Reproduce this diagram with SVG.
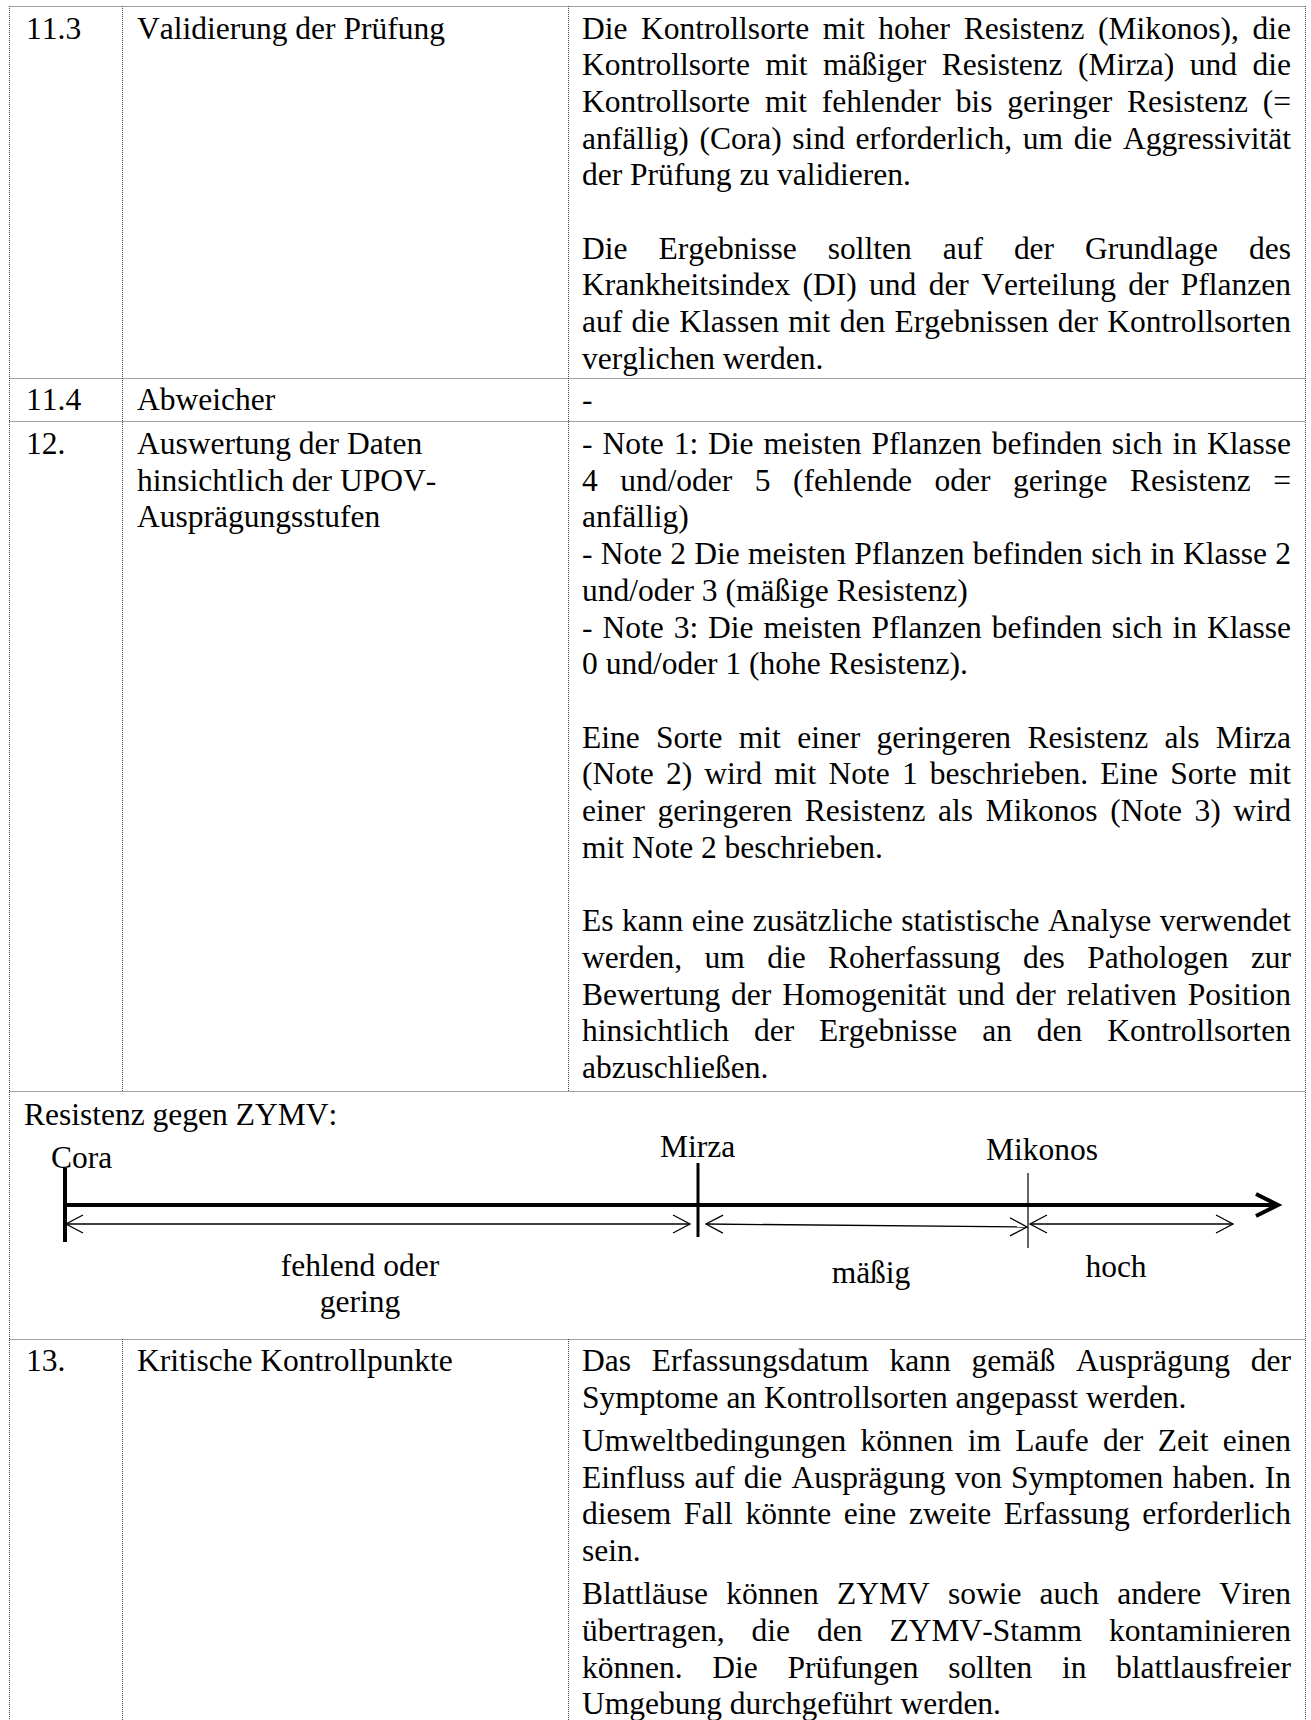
<svg xmlns="http://www.w3.org/2000/svg" width="1311" height="1720" viewBox="0 0 1311 1720">
<style>
.t{font-family:"Liberation Serif","Times New Roman",serif;font-size:31.5px;fill:#000;font-kerning:none}
.m{text-anchor:middle}
.grid{stroke:#444;stroke-width:1;stroke-dasharray:1 1;fill:none}
.thin{stroke:#000;stroke-width:1.3;fill:none;marker-start:url(#oa);marker-end:url(#oa)}
</style>
<defs>
<marker id="oa" markerUnits="userSpaceOnUse" markerWidth="20" markerHeight="22" viewBox="0 0 20 22" refX="18" refY="11" orient="auto-start-reverse">
<path d="M1,2 L18,11 L1,20" fill="none" stroke="#000" stroke-width="1.3"/>
</marker>
</defs>
<rect width="1311" height="1720" fill="#fff"/>

<g id="grid">
<path class="grid" d="M9.5,6.5 H1305.5 M9.5,378.5 H1305.5 M9.5,421.5 H1305.5 M9.5,1091.5 H1305.5 M9.5,1339.5 H1305.5"/>
<path class="grid" d="M9.5,6 V1720 M1305.5,6 V1720 M122.5,6 V1091 M568.5,6 V1091 M122.5,1339 V1720 M568.5,1339 V1720"/>
</g>

<g id="row-11-3">
<text class="t" x="26" y="38.5">11.3</text>
<text class="t" x="137" y="38.5">Validierung der Prüfung</text>
<text class="t" x="582" y="38.5" style="word-spacing:5.7px" textLength="709" lengthAdjust="spacing">Die Kontrollsorte mit hoher Resistenz (Mikonos), die</text>
<text class="t" x="582" y="75.2" style="word-spacing:7.6px" textLength="709" lengthAdjust="spacing">Kontrollsorte mit mäßiger Resistenz (Mirza) und die</text>
<text class="t" x="582" y="111.9" style="word-spacing:7px" textLength="709" lengthAdjust="spacing">Kontrollsorte mit fehlender bis geringer Resistenz (=</text>
<text class="t" x="582" y="148.6" style="word-spacing:2.8px" textLength="709" lengthAdjust="spacing">anfällig) (Cora) sind erforderlich, um die Aggressivität</text>
<text class="t" x="582" y="185.3">der Prüfung zu validieren.</text>
<text class="t" x="582" y="258.7" style="word-spacing:23.1px" textLength="709" lengthAdjust="spacing">Die Ergebnisse sollten auf der Grundlage des</text>
<text class="t" x="582" y="295.4" style="word-spacing:4.45px" textLength="709" lengthAdjust="spacing">Krankheitsindex (DI) und der Verteilung der Pflanzen</text>
<text class="t" x="582" y="332.1" style="word-spacing:1.43px" textLength="709" lengthAdjust="spacing">auf die Klassen mit den Ergebnissen der Kontrollsorten</text>
<text class="t" x="582" y="368.8">verglichen werden.</text>
</g>

<g id="row-11-4">
<text class="t" x="26" y="410">11.4</text>
<text class="t" x="137" y="410">Abweicher</text>
<text class="t" x="582" y="410">-</text>
</g>

<g id="row-12">
<text class="t" x="26" y="454">12.</text>
<text class="t" x="137" y="454">Auswertung der Daten</text>
<text class="t" x="137" y="490.7">hinsichtlich der UPOV-</text>
<text class="t" x="137" y="527.4">Ausprägungsstufen</text>
<text class="t" x="582" y="454" style="word-spacing:2.08px" textLength="709" lengthAdjust="spacing">- Note 1: Die meisten Pflanzen befinden sich in Klasse</text>
<text class="t" x="582" y="490.7" style="word-spacing:14.6px" textLength="709" lengthAdjust="spacing">4 und/oder 5 (fehlende oder geringe Resistenz =</text>
<text class="t" x="582" y="527.4">anfällig)</text>
<text class="t" x="582" y="564.1" style="word-spacing:0.39px" textLength="709" lengthAdjust="spacing">- Note 2 Die meisten Pflanzen befinden sich in Klasse 2</text>
<text class="t" x="582" y="600.8">und/oder 3 (mäßige Resistenz)</text>
<text class="t" x="582" y="637.5" style="word-spacing:2.08px" textLength="709" lengthAdjust="spacing">- Note 3: Die meisten Pflanzen befinden sich in Klasse</text>
<text class="t" x="582" y="674.2">0 und/oder 1 (hohe Resistenz).</text>
<text class="t" x="582" y="747.6" style="word-spacing:8.43px" textLength="709" lengthAdjust="spacing">Eine Sorte mit einer geringeren Resistenz als Mirza</text>
<text class="t" x="582" y="784.3" style="word-spacing:4.31px" textLength="709" lengthAdjust="spacing">(Note 2) wird mit Note 1 beschrieben. Eine Sorte mit</text>
<text class="t" x="582" y="821" style="word-spacing:4.68px" textLength="709" lengthAdjust="spacing">einer geringeren Resistenz als Mikonos (Note 3) wird</text>
<text class="t" x="582" y="857.7">mit Note 2 beschrieben.</text>
<text class="t" x="582" y="931.1" style="word-spacing:0.65px" textLength="709" lengthAdjust="spacing">Es kann eine zusätzliche statistische Analyse verwendet</text>
<text class="t" x="582" y="967.8" style="word-spacing:14.7px" textLength="709" lengthAdjust="spacing">werden, um die Roherfassung des Pathologen zur</text>
<text class="t" x="582" y="1004.5" style="word-spacing:2.97px" textLength="709" lengthAdjust="spacing">Bewertung der Homogenität und der relativen Position</text>
<text class="t" x="582" y="1041.2" style="word-spacing:17px" textLength="709" lengthAdjust="spacing">hinsichtlich der Ergebnisse an den Kontrollsorten</text>
<text class="t" x="582" y="1077.9">abzuschließen.</text>
</g>

<g id="resistance-scale">
<text class="t" x="24" y="1125">Resistenz gegen ZYMV:</text>
<text class="t" x="51" y="1168">Cora</text>
<text class="t" x="660" y="1157">Mirza</text>
<text class="t" x="986" y="1160">Mikonos</text>
<line x1="65" y1="1168" x2="65" y2="1242" stroke="#000" stroke-width="4"/>
<line x1="698" y1="1163" x2="698" y2="1237" stroke="#000" stroke-width="3"/>
<line x1="1028" y1="1173" x2="1028" y2="1248" stroke="#666" stroke-width="2"/>
<line x1="65" y1="1205" x2="1277" y2="1205" stroke="#000" stroke-width="4"/>
<polyline points="1256,1194 1278,1205 1256,1216" fill="none" stroke="#000" stroke-width="4"/>
<text class="t m" x="360" y="1276">fehlend oder</text>
<text class="t m" x="360" y="1312">gering</text>
<text class="t m" x="871" y="1283">mäßig</text>
<text class="t m" x="1116" y="1277">hoch</text>
</g>

<g id="connectors">
<line class="thin" x1="66" y1="1224" x2="690" y2="1224"/>
<line class="thin" x1="706" y1="1224" x2="1027" y2="1227"/>
<line class="thin" x1="1030" y1="1224" x2="1233" y2="1224"/>
</g>

<g id="row-13">
<text class="t" x="26" y="1371">13.</text>
<text class="t" x="137" y="1371">Kritische Kontrollpunkte</text>
<text class="t" x="582" y="1371" style="word-spacing:12.9px" textLength="709" lengthAdjust="spacing">Das Erfassungsdatum kann gemäß Ausprägung der</text>
<text class="t" x="582" y="1407.7">Symptome an Kontrollsorten angepasst werden.</text>
<text class="t" x="582" y="1450.9" style="word-spacing:6.48px" textLength="709" lengthAdjust="spacing">Umweltbedingungen können im Laufe der Zeit einen</text>
<text class="t" x="582" y="1487.6" style="word-spacing:1.3px" textLength="709" lengthAdjust="spacing">Einfluss auf die Ausprägung von Symptomen haben. In</text>
<text class="t" x="582" y="1524.3" style="word-spacing:4.73px" textLength="709" lengthAdjust="spacing">diesem Fall könnte eine zweite Erfassung erforderlich</text>
<text class="t" x="582" y="1561">sein.</text>
<text class="t" x="582" y="1604.2" style="word-spacing:10.3px" textLength="709" lengthAdjust="spacing">Blattläuse können ZYMV sowie auch andere Viren</text>
<text class="t" x="582" y="1640.9" style="word-spacing:19.1px" textLength="709" lengthAdjust="spacing">übertragen, die den ZYMV-Stamm kontaminieren</text>
<text class="t" x="582" y="1677.6" style="word-spacing:21.8px" textLength="709" lengthAdjust="spacing">können. Die Prüfungen sollten in blattlausfreier</text>
<text class="t" x="582" y="1714.3">Umgebung durchgeführt werden.</text>
</g>
</svg>
